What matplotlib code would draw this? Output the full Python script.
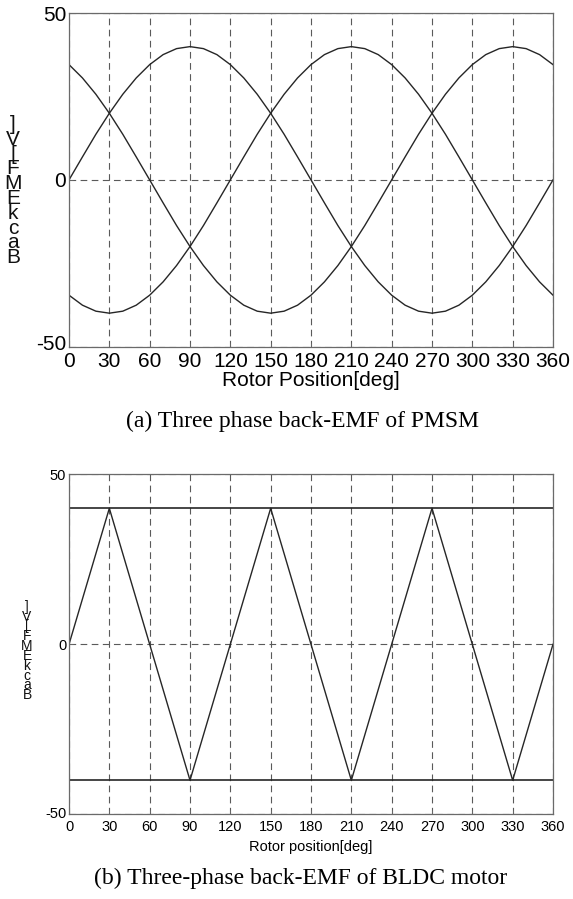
import matplotlib
matplotlib.use("Agg")
import matplotlib.pyplot as plt
from matplotlib.transforms import ScaledTranslation

# ---------------- data ----------------
theta = [0, 10, 20, 30, 40, 50, 60, 70, 80, 90, 100, 110, 120, 130, 140, 150, 160, 170,
         180, 190, 200, 210, 220, 230, 240, 250, 260, 270, 280, 290, 300, 310, 320, 330,
         340, 350, 360]
emf_a = [0, 6.9, 13.7, 20.0, 25.7, 30.6, 34.6, 37.6, 39.4, 40.0, 39.4, 37.6, 34.6, 30.6,
         25.7, 20.0, 13.7, 6.9, 0, -6.9, -13.7, -20.0, -25.7, -30.6, -34.6, -37.6, -39.4,
         -40.0, -39.4, -37.6, -34.6, -30.6, -25.7, -20.0, -13.7, -6.9, 0]
emf_b = [-34.6, -37.6, -39.4, -40.0, -39.4, -37.6, -34.6, -30.6, -25.7, -20.0, -13.7, -6.9,
         0, 6.9, 13.7, 20.0, 25.7, 30.6, 34.6, 37.6, 39.4, 40.0, 39.4, 37.6, 34.6, 30.6,
         25.7, 20.0, 13.7, 6.9, 0, -6.9, -13.7, -20.0, -25.7, -30.6, -34.6]
emf_c = [34.6, 30.6, 25.7, 20.0, 13.7, 6.9, 0, -6.9, -13.7, -20.0, -25.7, -30.6, -34.6,
         -37.6, -39.4, -40.0, -39.4, -37.6, -34.6, -30.6, -25.7, -20.0, -13.7, -6.9, 0,
         6.9, 13.7, 20.0, 25.7, 30.6, 34.6, 37.6, 39.4, 40.0, 39.4, 37.6, 34.6]

bldc_tri_x = [0, 30, 90, 150, 210, 270, 330, 360]
bldc_tri_y = [0, 40, -40, 40, -40, 40, -40, 0]
bldc_flat_x = [0, 360]
bldc_top_y = [40, 40]
bldc_bot_y = [-40, -40]

xticks = [0, 30, 60, 90, 120, 150, 180, 210, 240, 270, 300, 330, 360]
yticks = [-50, 0, 50]
ylabel_chars = list("BackEMF[V]")
xlabel_top = "Rotor Position[deg]"
xlabel_bot = "Rotor position[deg]"
caption_top = "(a) Three phase back-EMF of PMSM"
caption_bot = "(b) Three-phase back-EMF of BLDC motor"

# ---------------- style ----------------
W, H = 573, 899
SANS = ["Liberation Sans Narrow", "Liberation Sans", "DejaVu Sans"]
SERIF = ["Liberation Serif", "DejaVu Serif"]
LINE = "#262626"
GRID = "#5a5a5a"
SPINE = "#6a6a6a"

fig = plt.figure(figsize=(W / 100, H / 100), dpi=100)


def px(x, y):
    return x / W, 1 - y / H


def setup(ax, fs, xlabel, pad, label_y_px, bottom_px, height_px, lift):
    ax.set_xlim(0, 360)
    ax.set_ylim(-50, 50)
    ax.set_xticks(xticks)
    ax.set_yticks(yticks)
    ax.set_xticklabels([str(v) for v in xticks], family=SANS, fontsize=fs)
    ax.set_yticklabels([str(v) for v in yticks], family=SANS, fontsize=fs)
    ax.tick_params(direction="in", length=3, width=0.6, color=SPINE)
    ax.tick_params(axis="x", pad=pad)
    ax.tick_params(axis="y", pad=2)
    ax.grid(True, color=GRID, linestyle=(0, (6, 4)), linewidth=0.8)
    for s in ax.spines.values():
        s.set_color(SPINE)
        s.set_linewidth(0.9)
    ax.set_xlabel(xlabel, family=SANS, fontsize=fs, va="center")
    ax.xaxis.set_label_coords(0.5, -(label_y_px - bottom_px) / height_px)
    # lift the lowest y tick label slightly so it sits above the x "0"
    lab = ax.get_yticklabels()[0]
    lab.set_transform(lab.get_transform() +
                      ScaledTranslation(0, lift / 100, fig.dpi_scale_trans))


# top axes
l, b = px(69, 346.5)
r, t = px(553, 13.3)
ax1 = fig.add_axes([l, b, r - l, t - b])
for ys in (emf_a, emf_b, emf_c):
    ax1.plot(theta, ys, color=LINE, lw=1.0)
setup(ax1, 15, xlabel_top, 4, 381, 346.5, 333.2, 4)

# bottom axes
l, b = px(69, 814.3)
r, t = px(553, 474.3)
ax2 = fig.add_axes([l, b, r - l, t - b])
ax2.plot(bldc_flat_x, bldc_top_y, color=LINE, lw=1.2)
ax2.plot(bldc_flat_x, bldc_bot_y, color=LINE, lw=1.2)
ax2.plot(bldc_tri_x, bldc_tri_y, color=LINE, lw=1.0)
setup(ax2, 10.5, xlabel_bot, 4, 847, 814.3, 340.0, 2)

# garbled stacked y labels (one text object each, tightly stacked)
stack = "\n".join(reversed(ylabel_chars))
x, y = px(13, 191)
fig.text(x, y, stack, family=SANS, fontsize=15, ha="center", va="center",
         multialignment="center", linespacing=0.72, color="#111111")
x, y = px(27, 651)
fig.text(x, y, stack, family=SANS, fontsize=10, ha="center", va="center",
         multialignment="center", linespacing=0.62, color="#111111")

# captions
x, y = px(302, 421)
fig.text(x, y, caption_top, family=SERIF, fontsize=17, ha="center", va="center")
x, y = px(301, 878)
fig.text(x, y, caption_bot, family=SERIF, fontsize=17, ha="center", va="center")

fig.savefig("out.png", dpi=100, facecolor="white")
